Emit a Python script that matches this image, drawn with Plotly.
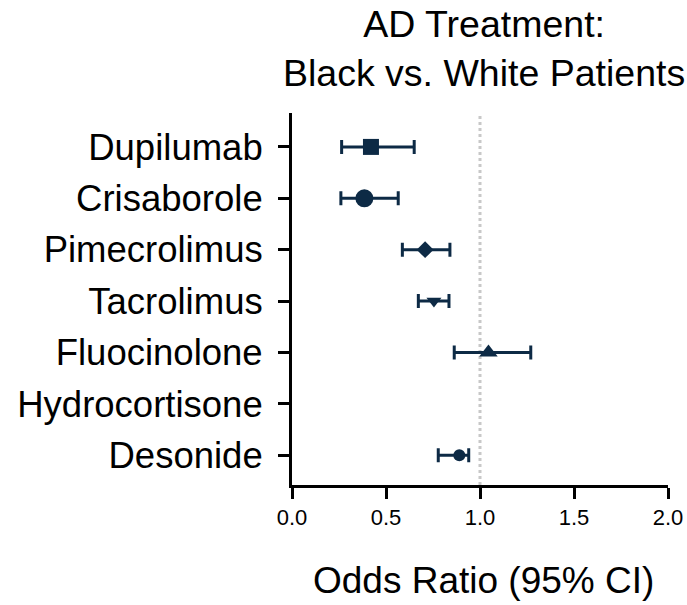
import plotly.graph_objects as go

treatments = ["Dupilumab", "Crisaborole", "Pimecrolimus", "Tacrolimus",
              "Fluocinolone", "Hydrocortisone", "Desonide"]
odds_ratio = [0.42, 0.385, 0.708, 0.755, 1.045, None, 0.89]
ci_low = [0.264, 0.26, 0.587, 0.672, 0.863, None, 0.778]
ci_high = [0.65, 0.565, 0.84, 0.835, 1.27, None, 0.94]
symbols = ["square", "circle", "diamond", "triangle-down", "triangle-up", "circle", "circle"]
sizes = [16, 18, 13, 13, 16, 12, 12]
x_ticks = [0.0, 0.5, 1.0, 1.5, 2.0]

navy = "#0d2a45"
font = "Liberation Sans, Arial, sans-serif"

ypos = list(range(len(treatments)))
err_plus = [None if o is None else h - o for o, h in zip(odds_ratio, ci_high)]
err_minus = [None if o is None else o - l for o, l in zip(odds_ratio, ci_low)]

fig = go.Figure()
fig.add_trace(go.Scatter(
    x=odds_ratio, y=ypos, mode="markers",
    marker=dict(symbol=symbols, size=sizes, color=navy, opacity=1,
                line=dict(width=0)),
    error_x=dict(type="data", array=err_plus, arrayminus=err_minus,
                 color=navy, thickness=3, width=7),
    showlegend=False, hoverinfo="skip",
))

fig.add_shape(type="line", x0=1, x1=1, xref="x", y0=0, y1=1, yref="paper",
              line=dict(color="#c8c8c8", width=3, dash="dot"), layer="below")

fig.update_layout(
    width=687, height=605,
    margin=dict(l=292, r=19, t=113, b=120, autoexpand=False),
    paper_bgcolor="white", plot_bgcolor="white",
    font=dict(family=font, color="black"),
    xaxis=dict(range=[0, 2], tickvals=x_ticks, ticktext=[f"{v:.1f}" for v in x_ticks],
               showline=True, linecolor="black", linewidth=3, automargin=False,
               ticks="outside", ticklen=11, tickwidth=3, tickcolor="black",
               showgrid=False, zeroline=False,
               tickfont=dict(size=22, family=font, color="black")),
    yaxis=dict(range=[6.58, -0.66], tickvals=ypos, ticktext=treatments,
               showline=True, linecolor="black", linewidth=3, automargin=False,
               ticks="outside", ticklen=11, tickwidth=3, tickcolor="black",
               showgrid=False, zeroline=False, ticklabelstandoff=8,
               tickfont=dict(size=36.5, family=font, color="black")),
    annotations=[
        dict(text="AD Treatment:<br>Black vs. White Patients", xref="paper", yref="paper",
             x=0.51, y=1, xanchor="center", yanchor="bottom", yshift=17,
             showarrow=False, font=dict(size=37.5, family=font, color="black")),
        dict(text="Odds Ratio (95% CI)", xref="paper", yref="paper",
             x=0.51, y=-0.258, xanchor="center", yanchor="middle",
             showarrow=False, font=dict(size=37, family=font, color="black")),
    ],
)

fig.write_html("out.html", config={"displayModeBar": False},
               post_script="document.body.style.margin='0px';")
